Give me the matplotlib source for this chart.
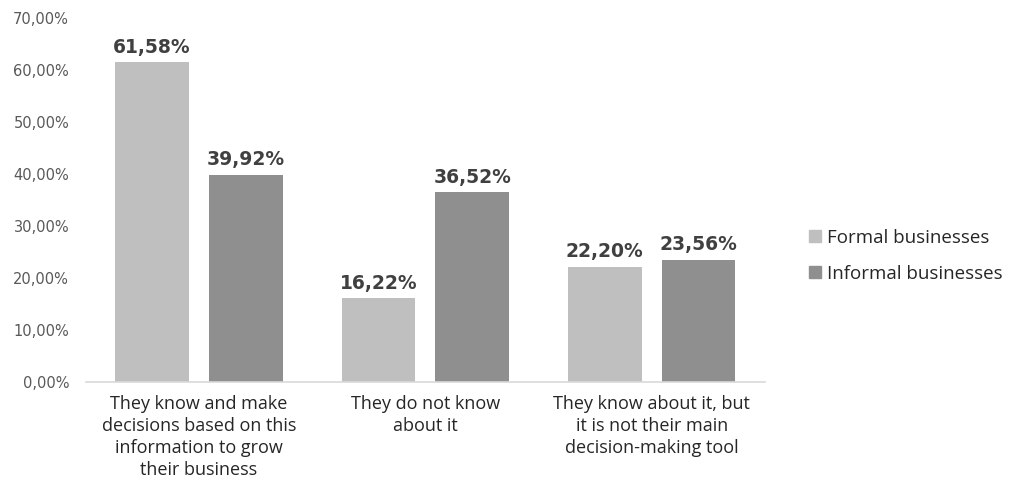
import numpy as np
import matplotlib.pyplot as plt
from matplotlib.patches import Patch
from matplotlib.ticker import FuncFormatter

plt.rcParams['font.family'] = ['Open Sans', 'DejaVu Sans']

categories = ['They know and make\ndecisions based on this\ninformation to grow\ntheir business',
              'They do not know\nabout it',
              'They know about it, but\nit is not their main\ndecision-making tool']
series_names = ['Formal businesses', 'Informal businesses']
formal = [61.58, 16.22, 22.20]
informal = [39.92, 36.52, 23.56]

colors = ['#bfbfbf', '#8f8f8f']
width = 0.326
gap = 0.088

fig = plt.figure(figsize=(10.09, 4.87), dpi=100)
ax = fig.add_axes([0.085, 0.2156, 0.673, 0.747])

x = np.arange(len(categories))
offset = (width + gap) / 2
for vals, col, off in [(formal, colors[0], -offset), (informal, colors[1], offset)]:
    bars = ax.bar(x + off, vals, width, color=col)
    for b, v in zip(bars, vals):
        ax.text(b.get_x() + b.get_width() / 2, v + 1.0, f'{v:.2f}%'.replace('.', ','),
                ha='center', va='bottom', fontsize=13.5, fontweight='bold',
                color='#404040', family='DejaVu Sans')

ax.set_xlim(-0.5, 2.5)
ax.set_ylim(0, 70)
ax.set_yticks(np.arange(0, 71, 10))
ax.yaxis.set_major_formatter(FuncFormatter(lambda v, p: f'{v:.2f}%'.replace('.', ',')))
ax.tick_params(axis='y', length=0, labelsize=10.5, labelcolor='#595959', pad=12,
               labelfontfamily='DejaVu Sans')
ax.set_xticks(x)
ax.set_xticklabels(categories, fontsize=13, color='#262626', linespacing=1.3)
ax.tick_params(axis='x', length=0, pad=9)

for s in ['top', 'right', 'left']:
    ax.spines[s].set_visible(False)
ax.spines['bottom'].set_color('#d9d9d9')
ax.spines['bottom'].set_linewidth(1.2)

handles = [Patch(color=c, label=n) for c, n in zip(colors, series_names)]
fig.legend(handles=handles, loc='center left', bbox_to_anchor=(0.785, 0.475),
           frameon=False, fontsize=13.5, handlelength=0.65, handleheight=0.65,
           handletextpad=0.3, labelspacing=0.95, labelcolor='#262626')

fig.savefig('out.png', dpi=100)
